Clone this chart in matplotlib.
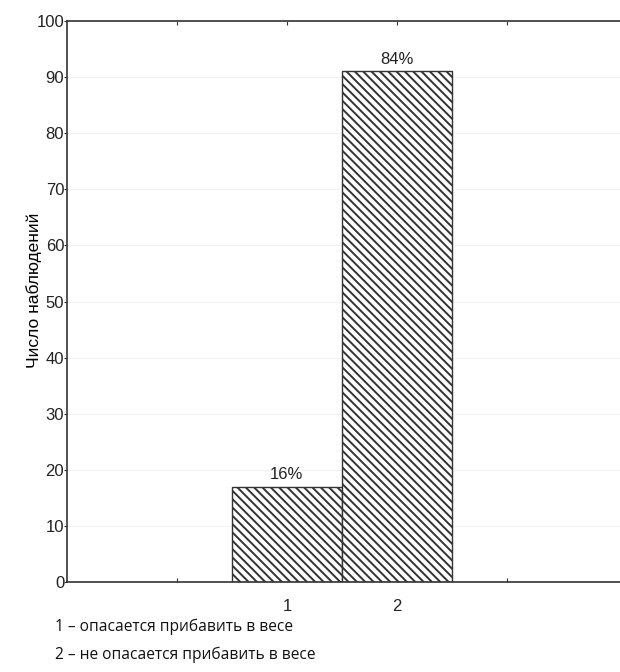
import matplotlib
matplotlib.use("Agg")
import matplotlib.pyplot as plt

# данные
categories = [1, 2]
counts = [17, 91]
pct_labels = ["16%", "84%"]
y_ticks = [0, 10, 20, 30, 40, 50, 60, 70, 80, 90, 100]
legend_lines = ["1 – опасается прибавить в весе",
                "2 – не опасается прибавить в весе"]

plt.rcParams['font.family'] = ['Liberation Sans', 'DejaVu Sans']
plt.rcParams['hatch.linewidth'] = 1.4
plt.rcParams['hatch.color'] = 'black'

fig = plt.figure(figsize=(6.2, 6.72), dpi=100)
ax = fig.add_axes([67 / 620, 90 / 672, 553 / 620, 561 / 672])

bars = ax.bar(categories, counts, width=1.0, color='white',
              edgecolor='#333333', linewidth=1.0, hatch='\\' * 4)
for b, lab in zip(bars, pct_labels):
    ax.text(b.get_x() + b.get_width() / 2, b.get_height() + 0.8, lab,
            ha='center', va='bottom', fontsize=12, color='#222222')

ax.set_xlim(-1, 4.03)
ax.set_ylim(0, 100)
ax.set_yticks(y_ticks)
ax.set_xticks([0, 1, 2, 3])
ax.set_xticklabels(["", "1", "2", ""])
ax.tick_params(axis='x', direction='in', length=3, pad=12, labelsize=12,
               top=True, color='#333333', labelcolor='#222222')
ax.tick_params(axis='y', direction='out', length=2, pad=0, labelsize=12,
               color='#333333', labelcolor='#222222')
ax.yaxis.grid(True, color='#f2f2f2', linewidth=0.8)
ax.set_axisbelow(True)

for side in ['left', 'bottom', 'top']:
    ax.spines[side].set_color('#333333')
    ax.spines[side].set_linewidth(1.2)
ax.spines['right'].set_visible(False)

ax.set_ylabel("Число наблюдений", fontsize=12.5)
ax.yaxis.set_label_coords(-0.045, 0.52)

for i, line in enumerate(legend_lines):
    fig.text(55 / 620, 1 - (627 + i * 28) / 672, line,
             fontsize=11.2, family=['Open Sans', 'DejaVu Sans'],
             va='center', ha='left', color='#111111')

fig.savefig("out.png", dpi=100)
